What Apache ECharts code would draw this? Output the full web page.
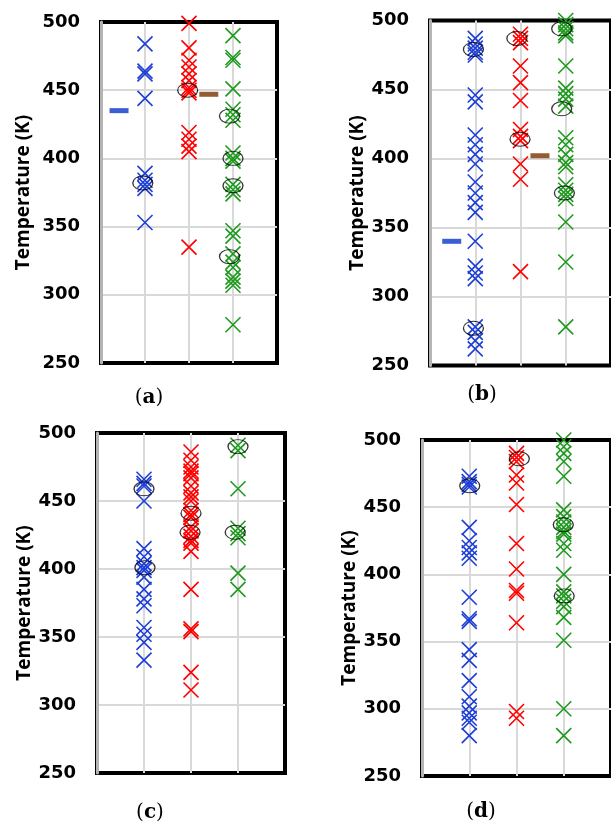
<!DOCTYPE html>
<html>
<head>
<meta charset="utf-8">
<script src="https://cdn.jsdelivr.net/npm/echarts@6/dist/echarts.min.js"></script>
<style>html,body{margin:0;padding:0;background:#fff;}#c{width:611px;height:825px;}</style>
</head>
<body>
<div id="c"></div>
<script>
// ---- data ----
const colX = { blue: 1, red: 2, green: 3 };
const yMin = 250, yMax = 500, yStep = 50;
const yName = 'Temperature (K)';
const captions = ['a', 'b', 'c', 'd'];

// panel (a)
const blueA = [484, 464, 462, 444, 389, 384, 381, 378, 353];
const redA = [499, 481, 472, 467, 462, 457, 452, 450, 448, 419, 414, 409, 405, 335];
const greenA = [490, 474, 472, 451, 436, 432, 428, 404, 400, 398, 381, 377, 374, 347, 343, 330, 324, 320, 313, 310, 307, 278];
const circA = [[0.95, 382], [1.97, 450], [2.92, 431], [3.0, 400], [3.0, 380], [2.92, 328]];
const dashBlueA = [[0.41, 435]];
const dashBrownA = [[2.45, 447]];

// panel (b)
const blueB = [487, 483, 480, 477, 475, 446, 441, 417, 410, 403, 396, 383, 375, 368, 361, 340, 322, 317, 313, 278, 274, 268, 262];
const redB = [490, 487, 484, 467, 455, 442, 421, 416, 413, 396, 385, 318];
const greenB = [500, 497, 494, 491, 489, 467, 451, 447, 443, 438, 415, 410, 403, 397, 394, 381, 377, 374, 371, 354, 325, 278];
const circB = [[0.96, 479], [0.96, 277], [1.92, 487], [1.99, 414], [2.91, 494], [2.91, 436], [2.97, 375]];
const dashBlueB = [[0.48, 340]];
const dashBrownB = [[2.43, 402]];

// panel (c)
const blueC = [466, 463, 461, 450, 415, 409, 404, 401, 399, 394, 385, 378, 373, 357, 352, 346, 333];
const redC = [486, 480, 475, 472, 470, 467, 461, 456, 453, 450, 443, 440, 438, 431, 428, 424, 421, 419, 413, 385, 356, 354, 324, 311];
const greenC = [491, 487, 459, 430, 426, 423, 397, 385];
const circC = [[1.0, 459], [1.02, 401], [2.0, 441], [1.98, 427], [3.0, 490], [2.94, 427]];

// panel (d)
const blueD = [473, 469, 467, 465, 435, 425, 420, 416, 412, 383, 367, 365, 344, 336, 321, 309, 302, 297, 293, 290, 280];
const redD = [490, 487, 484, 474, 468, 452, 423, 404, 388, 386, 364, 298, 293];
const greenD = [500, 495, 490, 484, 473, 448, 443, 439, 435, 432, 430, 423, 418, 400, 387, 384, 380, 376, 368, 351, 300, 280];
const circD = [[1.01, 466], [2.06, 486], [2.99, 437], [3.01, 384]];

// ---- styling / layout ----
const COLORS = { blue: '#1f3fd6', red: '#ff0000', green: '#1f9a1f', dashBlue: '#0a36c8', dashBrown: '#7a3300' };
const X_PATH = 'path://M0,0L10,10M10,0L0,10';
const ELLIPSE_PATH = 'path://M0,7A10,7 0 1,0 20,7A10,7 0 1,0 0,7Z';

const panels = [
  { grid: { left: 101, top: 22, width: 176, height: 341 }, blue: blueA, red: redA, green: greenA, circ: circA, dB: dashBlueA, dR: dashBrownA, nameGap: 68, cap: [149, 398] },
  { grid: { left: 430, top: 20.5, width: 184, height: 345 }, blue: blueB, red: redB, green: greenB, circ: circB, dB: dashBlueB, dR: dashBrownB, nameGap: 62, cap: [482, 395] },
  { grid: { left: 97, top: 433, width: 188, height: 340 }, blue: blueC, red: redC, green: greenC, circ: circC, dB: [], dR: [], nameGap: 62, cap: [150, 813] },
  { grid: { left: 422, top: 440, width: 200, height: 336 }, blue: blueD, red: redD, green: greenD, circ: circD, dB: [], dR: [], nameGap: 62, cap: [481, 812] }
];

const grid = [], xAxis = [], yAxis = [], series = [], graphic = [];
const gridLine = () => ({ show: true, showMinLine: false, showMaxLine: false, lineStyle: { color: '#d9d9d9', width: 2 } });

panels.forEach((p, i) => {
  grid.push(Object.assign({ show: true, borderColor: '#000', borderWidth: 4, backgroundColor: 'transparent' }, p.grid));
  xAxis.push({ gridIndex: i, type: 'value', min: 0, max: 4, interval: 1, position: 'bottom',
    axisLine: { show: false }, axisTick: { show: false }, axisLabel: { show: false }, splitLine: gridLine() });
  yAxis.push({ gridIndex: i, type: 'value', min: yMin, max: yMax, interval: yStep, position: 'left',
    name: yName, nameLocation: 'middle', nameGap: p.nameGap,
    nameTextStyle: { color: '#000', fontFamily: 'Open Sans', fontWeight: 'bold', fontSize: 19 },
    axisLine: { show: true, onZero: false, lineStyle: { color: '#b4b4b4', width: 3 } },
    axisTick: { show: false },
    axisLabel: { color: '#000', fontFamily: 'DejaVu Sans', fontWeight: 'bold', fontSize: 18, margin: 21 },
    splitLine: gridLine() });

  ['blue', 'red', 'green'].forEach(k => {
    series.push({ type: 'scatter', xAxisIndex: i, yAxisIndex: i, symbol: X_PATH, symbolSize: 15,
      clip: false, silent: true,
      itemStyle: { color: 'rgba(0,0,0,0)', borderColor: COLORS[k], borderWidth: 1.6, opacity: 1 },
      data: p[k].map(v => [colX[k], v]) });
  });
  series.push({ type: 'scatter', xAxisIndex: i, yAxisIndex: i, symbol: ELLIPSE_PATH, symbolSize: [20, 14],
    clip: false, silent: true,
    itemStyle: { color: 'rgba(0,0,0,0)', borderColor: '#000', borderWidth: 1.1 },
    data: p.circ });
  if (p.dB.length) series.push({ type: 'scatter', xAxisIndex: i, yAxisIndex: i, symbol: 'rect', symbolSize: [19, 5],
    silent: true, itemStyle: { color: COLORS.dashBlue }, data: p.dB });
  if (p.dR.length) series.push({ type: 'scatter', xAxisIndex: i, yAxisIndex: i, symbol: 'rect', symbolSize: [19, 5],
    silent: true, itemStyle: { color: COLORS.dashBrown }, data: p.dR });

  graphic.push({ type: 'text', x: p.cap[0], y: p.cap[1],
    style: { text: '{p|(}{b|' + captions[i] + '}{p|)}', align: 'center', verticalAlign: 'middle',
      rich: { p: { fontFamily: 'DejaVu Serif', fontSize: 20, fill: '#000', color: '#000' },
              b: { fontFamily: 'DejaVu Serif', fontSize: 20, fontWeight: 'bold', fill: '#000', color: '#000' } } } });
});

const chart = echarts.init(document.getElementById('c'), null, { renderer: 'canvas' });
chart.setOption({ animation: false, backgroundColor: '#fff', grid, xAxis, yAxis, series, graphic });
</script>
</body>
</html>
